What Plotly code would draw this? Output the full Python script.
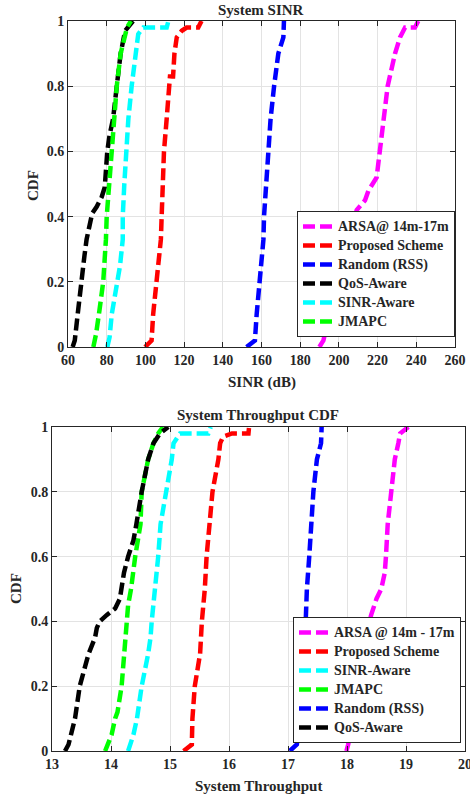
import plotly.graph_objects as go

# ---------------- Top chart: System SINR ----------------
sinr_arsa_x = [189.9, 192, 195, 199, 203, 207.5, 209.2, 213.5, 215.3, 219.5, 221.2, 223, 225.2, 229, 231.6, 234.2, 239.3, 241]
sinr_arsa_y = [0, 0.02, 0.1, 0.2, 0.3, 0.38, 0.42, 0.45, 0.48, 0.52, 0.6, 0.7, 0.8, 0.9, 0.95, 0.98, 0.98, 1.0]
sinr_prop_x = [99.8, 103.2, 104, 105.5, 108, 108.4, 108.9, 109.6, 111, 112.2, 112.7, 114.3, 115, 116.2, 118.8, 121.3, 127.3, 129]
sinr_prop_y = [0, 0.02, 0.1, 0.2, 0.33, 0.4, 0.5, 0.6, 0.7, 0.8, 0.83, 0.83, 0.9, 0.95, 0.97, 0.98, 0.98, 1.0]
sinr_rand_x = [152.3, 156.6, 157.5, 158.9, 161, 161.3, 162.3, 163.5, 164.7, 166.5, 168.7, 171.3, 171.6]
sinr_rand_y = [0, 0.02, 0.1, 0.2, 0.33, 0.4, 0.5, 0.6, 0.7, 0.8, 0.9, 0.95, 1.0]
sinr_qos_x = [62.4, 63.5, 65, 66.7, 68.5, 69.6, 71.4, 72.5, 74.8, 77.4, 79, 80.3, 81.5, 83.3, 85.2, 87.2, 89.5, 91, 93.6]
sinr_qos_y = [0, 0.02, 0.1, 0.2, 0.28, 0.33, 0.38, 0.41, 0.43, 0.46, 0.49, 0.6, 0.65, 0.7, 0.8, 0.9, 0.97, 0.98, 1.0]
sinr_sinr_x = [80.3, 81.5, 82.6, 85.2, 86.9, 88.3, 88.3, 89.1, 90, 91.2, 92.9, 95.1, 96.3, 98.9, 111, 111.9]
sinr_sinr_y = [0, 0.03, 0.1, 0.2, 0.25, 0.33, 0.4, 0.5, 0.6, 0.7, 0.8, 0.9, 0.96, 0.98, 0.98, 1.0]
sinr_jmapc_x = [73.1, 74.5, 76.2, 78.2, 79.6, 80, 81.3, 82.6, 84.3, 85.2, 87.2, 89.5, 90.5, 92.5]
sinr_jmapc_y = [0, 0.04, 0.11, 0.2, 0.33, 0.4, 0.5, 0.6, 0.7, 0.8, 0.9, 0.96, 0.98, 1.0]

# ---------------- Bottom chart: System Throughput ----------------
thr_arsa_x = [17.99, 18.02, 18.1, 18.2, 18.28, 18.33, 18.41, 18.5, 18.58, 18.64, 18.66, 18.69, 18.75, 18.81, 18.87, 18.9, 19.04]
thr_arsa_y = [0, 0.02, 0.1, 0.2, 0.3, 0.37, 0.42, 0.47, 0.5, 0.55, 0.6, 0.7, 0.8, 0.9, 0.95, 0.98, 1.0]
thr_prop_x = [15.23, 15.37, 15.38, 15.42, 15.51, 15.54, 15.59, 15.62, 15.67, 15.72, 15.82, 15.85, 15.9, 16.05, 16.33, 16.34]
thr_prop_y = [0, 0.02, 0.1, 0.2, 0.3, 0.4, 0.5, 0.6, 0.7, 0.8, 0.9, 0.95, 0.97, 0.98, 0.98, 1.0]
thr_sinr_x = [14.29, 14.38, 14.44, 14.52, 14.63, 14.67, 14.69, 14.75, 14.8, 14.84, 14.89, 14.94, 15.03, 15.06, 15.17, 15.65, 15.69]
thr_sinr_y = [0, 0.05, 0.1, 0.2, 0.3, 0.35, 0.4, 0.5, 0.6, 0.7, 0.75, 0.8, 0.9, 0.95, 0.98, 0.98, 1.0]
thr_jmapc_x = [13.9, 13.95, 14.01, 14.07, 14.11, 14.18, 14.22, 14.25, 14.29, 14.34, 14.41, 14.5, 14.52, 14.63, 14.72, 14.8, 14.88]
thr_jmapc_y = [0, 0.02, 0.05, 0.1, 0.12, 0.2, 0.3, 0.38, 0.45, 0.5, 0.6, 0.7, 0.8, 0.9, 0.95, 0.98, 1.0]
thr_rand_x = [17.03, 17.15, 17.2, 17.25, 17.28, 17.29, 17.32, 17.36, 17.39, 17.43, 17.49, 17.56, 17.57]
thr_rand_y = [0, 0.02, 0.1, 0.2, 0.3, 0.38, 0.5, 0.6, 0.7, 0.8, 0.9, 0.95, 1.0]
thr_qos_x = [13.22, 13.28, 13.39, 13.47, 13.62, 13.73, 13.76, 13.81, 13.93, 14.07, 14.15, 14.18, 14.22, 14.29, 14.38, 14.43, 14.52, 14.63, 14.72, 14.83, 14.97]
thr_qos_y = [0, 0.02, 0.1, 0.2, 0.3, 0.35, 0.38, 0.40, 0.42, 0.44, 0.47, 0.5, 0.55, 0.6, 0.65, 0.7, 0.8, 0.9, 0.95, 0.98, 1.0]

sinr_ticks = [60, 80, 100, 120, 140, 160, 180, 200, 220, 240, 260]
thr_ticks = [13, 14, 15, 16, 17, 18, 19, 20]
cdf_ticks = [0, 0.2, 0.4, 0.6, 0.8, 1]
cdf_labels = ["0", "0.2", "0.4", "0.6", "0.8", "1"]

MAG, RED, BLUE, BLK, CYAN, GRN = "#FF00FF", "#FF0000", "#0000FF", "#000000", "#00FFFF", "#00FF00"
FONT = "Liberation Serif"
DASH = "12px,5px"
LW = 4.5


def leg_name(s):
    return "<span style='font-size:14px'><b>%s</b></span>" % s


fig = go.Figure()

top_series = [
    ("ARSA@ 14m-17m", sinr_arsa_x, sinr_arsa_y, MAG),
    ("Proposed Scheme", sinr_prop_x, sinr_prop_y, RED),
    ("Random (RSS)", sinr_rand_x, sinr_rand_y, BLUE),
    ("QoS-Aware", sinr_qos_x, sinr_qos_y, BLK),
    ("SINR-Aware", sinr_sinr_x, sinr_sinr_y, CYAN),
    ("JMAPC", sinr_jmapc_x, sinr_jmapc_y, GRN),
]
for name, xs, ys, c in top_series:
    fig.add_trace(go.Scatter(x=xs, y=ys, mode="lines", name=leg_name(name),
                             line=dict(color=c, width=LW, dash=DASH),
                             xaxis="x", yaxis="y", legend="legend"))

bot_series = [
    ("ARSA @ 14m - 17m", thr_arsa_x, thr_arsa_y, MAG),
    ("Proposed Scheme", thr_prop_x, thr_prop_y, RED),
    ("SINR-Aware", thr_sinr_x, thr_sinr_y, CYAN),
    ("JMAPC", thr_jmapc_x, thr_jmapc_y, GRN),
    ("Random (RSS)", thr_rand_x, thr_rand_y, BLUE),
    ("QoS-Aware", thr_qos_x, thr_qos_y, BLK),
]
for name, xs, ys, c in bot_series:
    fig.add_trace(go.Scatter(x=xs, y=ys, mode="lines", name=leg_name(name),
                             line=dict(color=c, width=LW, dash=DASH),
                             xaxis="x2", yaxis="y2", legend="legend2"))

W, H = 470, 800
TICKFONT = dict(family=FONT, size=14, color="#262626", weight="bold")
TITLEFONT = dict(family=FONT, size=15, color="#262626", weight="bold")
axis_common = dict(showline=True, linecolor="#262626", linewidth=1, mirror="ticks",
                   ticks="inside", ticklen=5, tickcolor="#262626",
                   showgrid=True, gridcolor="#E3E3E3", gridwidth=1, zeroline=False,
                   tickfont=TICKFONT, automargin=False, ticklabeloverflow="allow")

LEGFONT = dict(family=FONT, size=11, color="#262626")


def ann(text, xp, yp, angle=0):
    return dict(text=text, x=xp / W, y=1 - yp / H, xref="paper", yref="paper",
                showarrow=False, font=TITLEFONT, xanchor="center", yanchor="middle",
                textangle=angle)


fig.update_layout(
    width=W, height=H,
    margin=dict(l=0, r=0, t=0, b=0, autoexpand=False),
    paper_bgcolor="white", plot_bgcolor="white",
    font=dict(family=FONT, color="#262626"),
    xaxis=dict(domain=[68 / W, 455 / W], range=[60, 260], tickvals=sinr_ticks,
               anchor="y", **axis_common),
    yaxis=dict(domain=[1 - 347 / H, 1 - 21 / H], range=[0, 1], tickvals=cdf_ticks,
               ticktext=cdf_labels, anchor="x", **axis_common),
    xaxis2=dict(domain=[52 / W, 465 / W], range=[13, 20], tickvals=thr_ticks,
                anchor="y2", **axis_common),
    yaxis2=dict(domain=[1 - 751 / H, 1 - 427 / H], range=[0, 1], tickvals=cdf_ticks,
                ticktext=cdf_labels, anchor="x2", **axis_common),
    legend=dict(x=455 / W, y=1 - 337 / H, xanchor="right", yanchor="bottom",
                bgcolor="white", bordercolor="#262626", borderwidth=1,
                font=LEGFONT, tracegroupgap=0, itemwidth=30,
                entrywidthmode="pixels", entrywidth=122),
    legend2=dict(x=461 / W, y=1 - 743 / H, xanchor="right", yanchor="bottom",
                 bgcolor="white", bordercolor="#262626", borderwidth=1,
                 font=LEGFONT, tracegroupgap=0, itemwidth=30,
                 entrywidthmode="pixels", entrywidth=134),
    annotations=[
        ann("System SINR", 261, 10),
        ann("System Throughput CDF", 258, 415),
        ann("SINR (dB)", 262, 382),
        ann("System Throughput", 258, 786),
        ann("CDF", 33, 186, -90),
        ann("CDF", 16, 589, -90),
    ],
)

fig.write_html("out.html", config={"displayModeBar": False},
               post_script="document.body.style.margin='0px';")
